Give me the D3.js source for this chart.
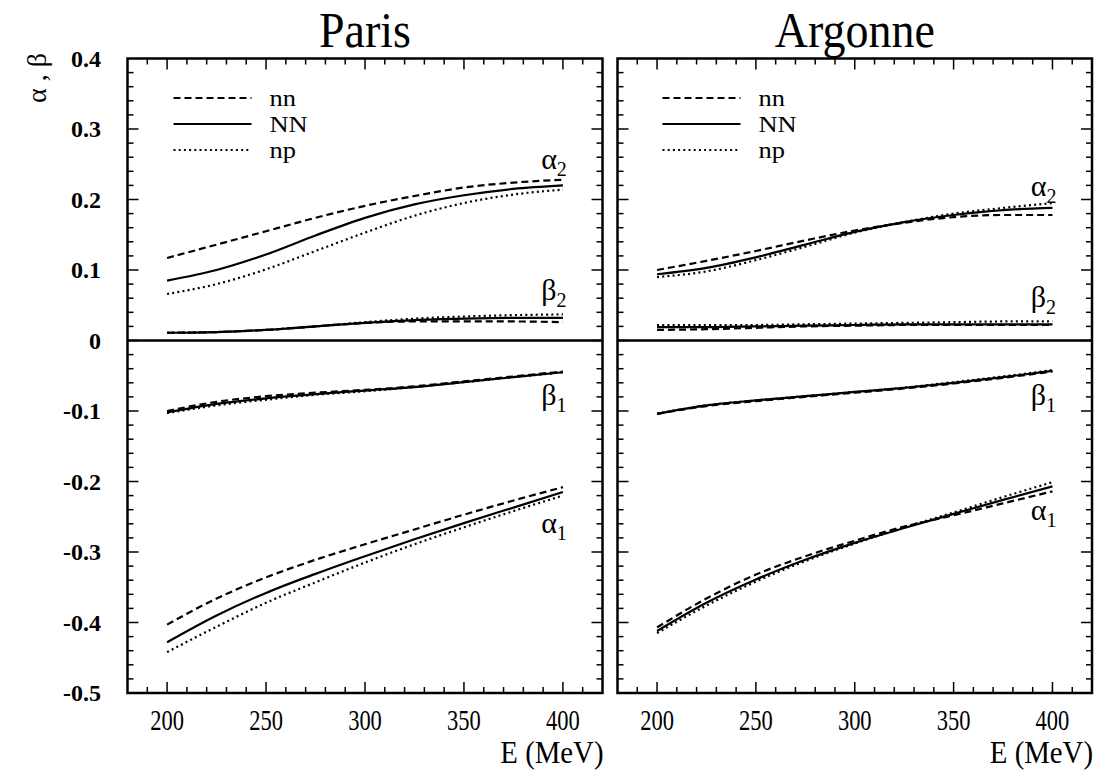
<!DOCTYPE html>
<html>
<head>
<meta charset="utf-8">
<script src="https://cdn.jsdelivr.net/npm/d3@7"></script>
<style>
  html, body { margin: 0; padding: 0; background: #fff; }
  svg text { font-family: "Liberation Serif", "Times New Roman", Times, serif; fill: #000; }
</style>
</head>
<body>
<svg id="chart" width="1095" height="774"></svg>
<script>
// beam energies (MeV) at which the curves were read
const energies = [200, 225, 250, 275, 300, 325, 350, 375, 400];

// Paris potential
const parisAlpha2 = {
  nn: [0.117, 0.136, 0.155, 0.174, 0.191, 0.205, 0.217, 0.224, 0.228],
  NN: [0.085, 0.100, 0.122, 0.149, 0.174, 0.193, 0.206, 0.215, 0.220],
  np: [0.066, 0.080, 0.101, 0.127, 0.153, 0.177, 0.195, 0.207, 0.214]
};
const parisBeta2 = {
  nn: [0.011, 0.012, 0.015, 0.020, 0.025, 0.027, 0.027, 0.027, 0.026],
  NN: [0.011, 0.012, 0.015, 0.020, 0.025, 0.029, 0.031, 0.032, 0.032],
  np: [0.011, 0.012, 0.015, 0.020, 0.026, 0.031, 0.034, 0.036, 0.037]
};
const parisBeta1 = {
  nn: [-0.100, -0.087, -0.079, -0.074, -0.070, -0.065, -0.058, -0.051, -0.044],
  NN: [-0.102, -0.090, -0.082, -0.076, -0.071, -0.066, -0.059, -0.052, -0.045],
  np: [-0.103, -0.092, -0.084, -0.077, -0.072, -0.066, -0.059, -0.052, -0.045]
};
const parisAlpha1 = {
  nn: [-0.403, -0.366, -0.336, -0.311, -0.289, -0.268, -0.247, -0.227, -0.208],
  NN: [-0.428, -0.390, -0.358, -0.331, -0.306, -0.282, -0.259, -0.237, -0.215],
  np: [-0.442, -0.406, -0.372, -0.343, -0.315, -0.289, -0.265, -0.242, -0.220]
};

// Argonne potential
const argonneAlpha2 = {
  nn: [0.100, 0.113, 0.127, 0.142, 0.156, 0.167, 0.175, 0.178, 0.178],
  NN: [0.094, 0.103, 0.118, 0.136, 0.154, 0.168, 0.178, 0.185, 0.188],
  np: [0.090, 0.098, 0.114, 0.133, 0.153, 0.168, 0.180, 0.188, 0.195]
};
const argonneBeta2 = {
  nn: [0.015, 0.016, 0.018, 0.020, 0.021, 0.022, 0.022, 0.022, 0.022],
  NN: [0.019, 0.019, 0.020, 0.021, 0.022, 0.023, 0.023, 0.023, 0.023],
  np: [0.022, 0.022, 0.022, 0.023, 0.024, 0.025, 0.026, 0.027, 0.027]
};
const argonneBeta1 = {
  nn: [-0.104, -0.093, -0.086, -0.080, -0.074, -0.068, -0.061, -0.053, -0.044],
  NN: [-0.104, -0.092, -0.085, -0.079, -0.073, -0.067, -0.060, -0.052, -0.043],
  np: [-0.104, -0.092, -0.085, -0.079, -0.073, -0.067, -0.059, -0.051, -0.042]
};
const argonneAlpha1 = {
  nn: [-0.407, -0.366, -0.332, -0.306, -0.284, -0.264, -0.248, -0.231, -0.214],
  NN: [-0.412, -0.372, -0.339, -0.311, -0.287, -0.266, -0.246, -0.226, -0.207],
  np: [-0.415, -0.376, -0.342, -0.313, -0.288, -0.265, -0.244, -0.222, -0.201]
};

// curve labels: [greek, subscript, E, value] (baseline position in data units)
const parisLabels = [['α', '2', 389, 0.243], ['β', '2', 389, 0.058], ['β', '1', 389, -0.092], ['α', '1', 389, -0.273]];
const argonneLabels = [['α', '2', 389, 0.205], ['β', '2', 389, 0.048], ['β', '1', 389, -0.092], ['α', '1', 389, -0.255]];

const seriesKeys = ['nn', 'NN', 'np'];
const yTicks = [0.4, 0.3, 0.2, 0.1, 0, -0.1, -0.2, -0.3, -0.4, -0.5];
const yTickLabels = ['0.4', '0.3', '0.2', '0.1', '0', '-0.1', '-0.2', '-0.3', '-0.4', '-0.5'];
const xTicks = [200, 250, 300, 350, 400];

const styles = {
  nn: { dash: '7,4', width: 2.2 },
  NN: { dash: null, width: 2.2 },
  np: { dash: '2,3.2', width: 2.2 }
};

const svg = d3.select('#chart');
const plotTop = 58.5, plotBottom = 693;

const y = d3.scaleLinear().domain([-0.5, 0.4]).range([plotBottom, plotTop]);

const panels = [
  { title: 'Paris', x0: 127.5, x1: 602.5, sets: [parisAlpha2, parisBeta2, parisBeta1, parisAlpha1], labels: parisLabels, yLabels: true },
  { title: 'Argonne', x0: 617.5, x1: 1092, sets: [argonneAlpha2, argonneBeta2, argonneBeta1, argonneAlpha1], labels: argonneLabels, yLabels: false }
];

panels.forEach((p) => {
  const x = d3.scaleLinear().domain([180, 420]).range([p.x0, p.x1]);
  const g = svg.append('g');

  // ticks, inward on all four sides
  const xMinor = d3.range(190, 420, 10);
  const yMinor = d3.range(-0.48, 0.4, 0.02).map((v) => Math.round(v * 100) / 100);

  const tickG = g.append('g').attr('stroke', '#000').attr('stroke-width', 1.5);
  xMinor.forEach((e) => {
    const len = e % 50 === 0 ? 11 : 6;
    tickG.append('line').attr('x1', x(e)).attr('x2', x(e)).attr('y1', plotBottom).attr('y2', plotBottom - len);
    tickG.append('line').attr('x1', x(e)).attr('x2', x(e)).attr('y1', plotTop).attr('y2', plotTop + len);
  });
  yMinor.forEach((v) => {
    const major = Math.abs(Math.round(v * 10) - v * 10) < 1e-6;
    const len = major ? 11 : 6;
    tickG.append('line').attr('x1', p.x0).attr('x2', p.x0 + len).attr('y1', y(v)).attr('y2', y(v));
    tickG.append('line').attr('x1', p.x1).attr('x2', p.x1 - len).attr('y1', y(v)).attr('y2', y(v));
  });

  // frame and zero line
  g.append('rect')
    .attr('x', p.x0).attr('y', plotTop)
    .attr('width', p.x1 - p.x0).attr('height', plotBottom - plotTop)
    .attr('fill', 'none').attr('stroke', '#000').attr('stroke-width', 2.5);
  g.append('line')
    .attr('x1', p.x0).attr('x2', p.x1).attr('y1', y(0)).attr('y2', y(0))
    .attr('stroke', '#000').attr('stroke-width', 2.5);

  // curves
  const line = d3.line()
    .x((d) => x(d[0]))
    .y((d) => y(d[1]))
    .curve(d3.curveMonotoneX);

  p.sets.forEach((set) => {
    seriesKeys.forEach((k) => {
      const pts = energies.map((e, i) => [e, set[k][i]]);
      g.append('path')
        .attr('d', line(pts))
        .attr('fill', 'none')
        .attr('stroke', '#000')
        .attr('stroke-width', styles[k].width)
        .attr('stroke-dasharray', styles[k].dash);
    });
  });

  // curve labels
  p.labels.forEach(([greek, sub, e, v]) => {
    const t = g.append('text')
      .attr('x', x(e)).attr('y', y(v))
      .attr('font-size', 30);
    t.append('tspan').text(greek);
    t.append('tspan').attr('font-size', 20).attr('dy', 7).text(sub);
  });

  // legend
  const lx = p.x0 + (p.yLabels ? 46 : 45);
  seriesKeys.forEach((k, i) => {
    const ly = 98 + i * 26;
    g.append('line')
      .attr('x1', lx).attr('x2', lx + 78).attr('y1', ly).attr('y2', ly)
      .attr('stroke', '#000').attr('stroke-width', styles[k].width)
      .attr('stroke-dasharray', styles[k].dash);
    g.append('text')
      .attr('transform', `translate(${lx + 96},${ly + 8}) scale(1.15,1)`)
      .attr('font-size', 23)
      .text(k);
  });

  // x tick labels
  xTicks.forEach((e) => {
    g.append('text')
      .attr('transform', `translate(${x(e)},730) scale(0.75,1)`)
      .attr('text-anchor', 'middle')
      .attr('font-size', 30)
      .text(e);
  });
  g.append('text')
    .attr('transform', `translate(${p.x1 + 1},763) scale(0.9,1)`)
    .attr('text-anchor', 'end')
    .attr('font-size', 32)
    .text('E (MeV)');

  // title
  g.append('text')
    .attr('transform', `translate(${(p.x0 + p.x1) / 2},47) scale(0.92,1)`)
    .attr('text-anchor', 'middle')
    .attr('font-size', 50)
    .text(p.title);

  // y tick labels
  if (p.yLabels) {
    yTicks.forEach((v, i) => {
      g.append('text')
        .attr('x', 101).attr('y', y(v) + 8)
        .attr('text-anchor', 'end')
        .attr('font-size', 24)
        .attr('font-weight', 'bold')
        .text(yTickLabels[i]);
    });
  }
});

// y axis title
svg.append('text')
  .attr('transform', 'translate(46,78) rotate(-90)')
  .attr('text-anchor', 'middle')
  .attr('font-size', 28)
  .text('α , β');
</script>
</body>
</html>
